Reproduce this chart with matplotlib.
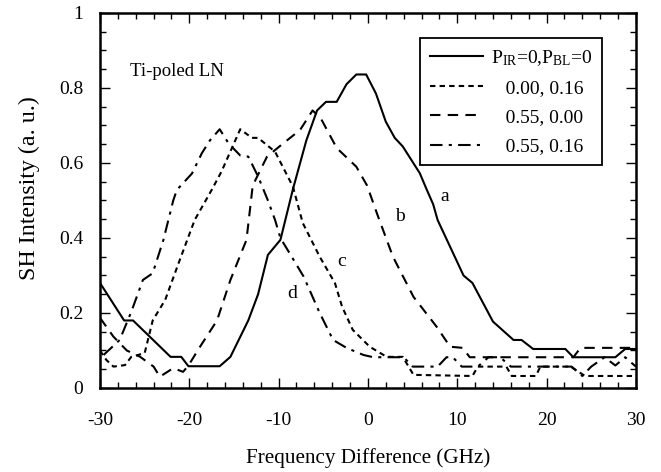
import matplotlib
matplotlib.use("Agg")
import matplotlib.pyplot as plt
from matplotlib.ticker import MultipleLocator, FuncFormatter

plt.rcParams['font.family'] = ['Liberation Serif', 'DejaVu Serif']
plt.rcParams['mathtext.fontset'] = 'custom'
plt.rcParams['mathtext.rm'] = 'Liberation Serif'
plt.rcParams['mathtext.it'] = 'Liberation Serif:italic'
plt.rcParams['axes.unicode_minus'] = False

# curve a: P_IR=0, P_BL=0 (solid)
a_x = [-30, -27.3, -26.3, -22.1, -20.9, -20.1, -16.6, -15.4, -13.4, -12.3, -11.2, -9.8, -8.4,
       -6.9, -5.7, -4.7, -3.5, -2.4, -1.3, -0.2, 0.9, 2.0, 3.0, 3.9, 5.8, 6.6, 7.3, 7.8, 10.7,
       11.7, 14.0, 16.3, 17.2, 18.5, 22.1, 23.0, 27.7, 28.8, 30]
a_y = [0.28, 0.18, 0.18, 0.083, 0.083, 0.058, 0.058, 0.083, 0.18, 0.25, 0.355, 0.395, 0.53,
       0.66, 0.74, 0.763, 0.763, 0.81, 0.836, 0.836, 0.785, 0.71, 0.667, 0.644, 0.573, 0.528, 0.49, 0.448, 0.30,
       0.28, 0.177, 0.128, 0.128, 0.104, 0.104, 0.082, 0.082, 0.104, 0.104]

# curve c: 0.00, 0.16 (short dashes)
c_x = [-30, -29.3, -28.5, -27.2, -26.5, -25.0, -24.1, -22.7, -21.2, -19.4, -17.5, -16.4, -14.3,
       -13.0, -12.3, -10.4, -8.4, -7.3, -5.4, -3.7, -2.9, -1.7, 0.2, 2.1, 3.9, 5.1, 11.7, 12.3,
       15.5, 16.1, 18.8, 19.3, 22.7, 24.3, 30]
c_y = [0.10, 0.075, 0.057, 0.061, 0.083, 0.093, 0.18, 0.235, 0.333, 0.448, 0.528, 0.577, 0.69,
       0.667, 0.667, 0.63, 0.537, 0.44, 0.35, 0.28, 0.217, 0.155, 0.11, 0.083, 0.083, 0.035, 0.032, 0.057,
       0.057, 0.032, 0.032, 0.057, 0.057, 0.032, 0.032]

# curve b: 0.55, 0.00 (long dashes)
b_x = [-30, -28.5, -27.0, -25.5, -24.0, -23.3, -21.8, -20.7, -20.1, -18.8, -16.9, -15.4, -13.6,
       -12.9, -11.3, -9.5, -7.6, -6.2, -5.3, -3.5, -1.3, -0.1, 1.0, 2.8, 5.1, 7.7, 9.2, 10.6,
       11.4, 23.0, 23.8, 30]
b_y = [0.187, 0.137, 0.10, 0.083, 0.057, 0.03, 0.053, 0.043, 0.06, 0.11, 0.18, 0.288, 0.395,
       0.54, 0.617, 0.652, 0.688, 0.74, 0.72, 0.64, 0.59, 0.54, 0.466, 0.35, 0.243, 0.163, 0.11, 0.107,
       0.082, 0.082, 0.107, 0.107]

# curve d: 0.55, 0.16 (dash-dot)
d_x = [-29.6, -27.8, -26.5, -25.2, -24.1, -22.9, -21.8, -21.4, -19.7, -18.6, -17.7, -16.6, -15.6,
       -14.3, -13.4, -12.3, -11.2, -10.4, -9.8, -7.2, -5.4, -3.9, -2.4, -0.5, 0.6, 4.0, 5.0, 7.8,
       8.8, 9.5, 10.5, 12.3, 13.5, 14.8, 16.0, 22.8, 24.0, 25.0, 26.5, 27.7, 28.8, 30]
d_y = [0.088, 0.128, 0.203, 0.288, 0.306, 0.395, 0.50, 0.528, 0.572, 0.626, 0.66, 0.69, 0.652,
       0.62, 0.617, 0.564, 0.50, 0.448, 0.40, 0.297, 0.20, 0.128, 0.107, 0.088, 0.082, 0.082, 0.057, 0.057,
       0.082, 0.082, 0.057, 0.057, 0.082, 0.082, 0.057, 0.057, 0.032, 0.057, 0.082, 0.06, 0.082, 0.057]

labels = [r"P$_{\mathrm{IR}}$=0,P$_{\mathrm{BL}}$=0", "   0.00, 0.16", "   0.55, 0.00", "   0.55, 0.16"]

fig = plt.figure(figsize=(6.61, 4.72), dpi=100)
ax = fig.add_axes([0.1513, 0.178, 0.8107, 0.7945])

lw = 1.5
ax.plot(a_x, a_y, color='black', lw=lw, linestyle='-', label=labels[0])
ax.plot(c_x, c_y, color='black', lw=lw, linestyle=(0, (2.6, 2.0)), label=labels[1])
ax.plot(b_x, b_y, color='black', lw=lw, linestyle=(0, (5, 3.5)), label=labels[2])
ax.plot(d_x, d_y, color='black', lw=lw, linestyle=(0, (6, 3, 1.5, 3)), label=labels[3])

ax.set_xlim(-30, 30)
ax.set_ylim(0, 1)
ax.xaxis.set_major_locator(MultipleLocator(10))
ax.xaxis.set_minor_locator(MultipleLocator(2))
ax.yaxis.set_major_locator(MultipleLocator(0.2))
ax.yaxis.set_minor_locator(MultipleLocator(0.05))
ax.yaxis.set_major_formatter(FuncFormatter(lambda v, p: ('%g' % round(v, 2))))
ax.xaxis.set_major_formatter(FuncFormatter(lambda v, p: ('%d' % round(v))))
ax.tick_params(which='both', direction='in', top=True, right=True, labelsize=14, width=1.0)
ax.tick_params(which='major', length=7)
ax.tick_params(which='minor', length=4)
ax.tick_params(axis='x', pad=17)
ax.tick_params(axis='y', pad=12)
for s in ax.spines.values():
    s.set_linewidth(1.8)

ax.set_xlabel("Frequency Difference (GHz)", fontsize=15.2, labelpad=14)
ax.set_ylabel("SH Intensity (a. u.)", fontsize=17.3)
ax.yaxis.set_label_coords(-0.112, 0.533)

ax.text(-26.6, 0.845, "Ti-poled LN", fontsize=13.5, va='center', ha='left')
ax.text(8.6, 0.51, "a", fontsize=14, va='center', ha='center')
ax.text(3.6, 0.457, "b", fontsize=14, va='center', ha='center')
ax.text(-2.9, 0.337, "c", fontsize=14, va='center', ha='center')
ax.text(-8.5, 0.253, "d", fontsize=14, va='center', ha='center')

leg = ax.legend(loc='upper right', bbox_to_anchor=(0.937, 0.933), borderaxespad=0,
                fontsize=14, frameon=True,
                fancybox=False, framealpha=1, edgecolor='black', handlelength=2.75,
                borderpad=0.5, labelspacing=0.6, handletextpad=0.4)
leg.get_frame().set_linewidth(1.3)

fig.savefig("out.png", dpi=100)
